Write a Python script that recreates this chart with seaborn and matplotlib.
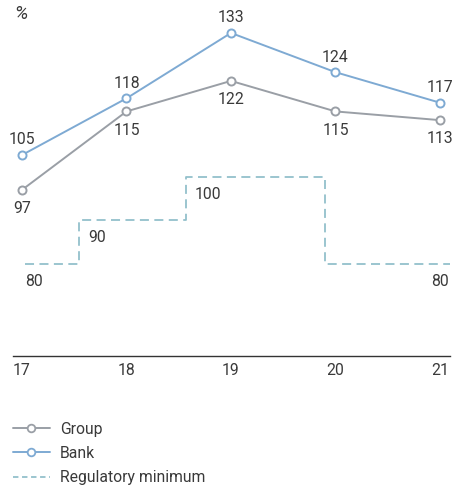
import matplotlib
matplotlib.use("Agg")
import matplotlib.pyplot as plt
from matplotlib.lines import Line2D
import seaborn as sns
import pandas as pd

# Data
years = [17, 18, 19, 20, 21]
year_labels = ["17", "18", "19", "20", "21"]
group = [97, 115, 122, 115, 113]
bank = [105, 118, 133, 124, 117]
reg_edges = [17.03, 17.55, 18.57, 19.9, 21.1]
reg_values = [80, 90, 100, 80]

GROUP_C = "#9a9fa6"
BANK_C = "#7eaad3"
REG_C = "#93c0cb"
TEXT_C = "#3a3a3a"

sns.set_theme(style="white")
plt.rcParams["font.family"] = ["Roboto", "DejaVu Sans"]
plt.rcParams["text.color"] = TEXT_C

W, H = 459, 491
fig = plt.figure(figsize=(W / 100, H / 100), dpi=100)
ax = fig.add_axes([13 / W, (H - 356) / H, (450 - 13) / W, (356 - 2) / H])

df = pd.DataFrame({"year": years, "Group": group, "Bank": bank})
reg_df = pd.DataFrame({"x": reg_edges, "y": reg_values + [reg_values[-1]]})

sns.lineplot(data=reg_df, x="x", y="y", ax=ax, color=REG_C, lw=1.3,
             drawstyle="steps-post", dashes=False, linestyle=(0, (5, 3)))
for col, c in (("Group", GROUP_C), ("Bank", BANK_C)):
    sns.lineplot(data=df, x="year", y=col, ax=ax, color=c, lw=1.4,
                 marker="o", markersize=5.8, markerfacecolor="white",
                 markeredgecolor=c, markeredgewidth=1.4)

fs = 11.3
for x, v in zip(years, bank):
    ax.annotate(str(v), (x, v), xytext=(0, 5.5), textcoords="offset points",
                ha="center", va="bottom", fontsize=fs, color=TEXT_C)
for x, v in zip(years, group):
    ax.annotate(str(v), (x, v), xytext=(0, -8), textcoords="offset points",
                ha="center", va="top", fontsize=fs, color=TEXT_C)

# Regulatory minimum labels
ax.annotate(str(reg_values[0]), (reg_edges[0], reg_values[0]), xytext=(0, -7),
            textcoords="offset points", ha="left", va="top", fontsize=fs, color=TEXT_C)
for i in (1, 2):
    ax.annotate(str(reg_values[i]), (reg_edges[i], reg_values[i]), xytext=(6.5, -7),
                textcoords="offset points", ha="left", va="top", fontsize=fs, color=TEXT_C)
ax.annotate(str(reg_values[-1]), (reg_edges[-1], reg_values[-1]), xytext=(-1, -7),
            textcoords="offset points", ha="right", va="top", fontsize=fs, color=TEXT_C)

ax.set_xlim(16.914, 21.096)
ax.set_ylim(58.9, 140.1)
ax.set_xticks(years)
ax.set_xticklabels(year_labels)
ax.set_yticks([])
ax.set_xlabel("")
ax.set_ylabel("")
for s in ("top", "left", "right"):
    ax.spines[s].set_visible(False)
ax.spines["bottom"].set_color("#333333")
ax.spines["bottom"].set_linewidth(1.0)
ax.tick_params(axis="x", length=0, pad=5, labelsize=fs, labelcolor=TEXT_C)
ax.patch.set_alpha(0)

fig.text(14 / W, 1 - 5 / H, "%", ha="left", va="top", fontsize=13.5,
         style="italic", color=TEXT_C)

handles = [
    Line2D([], [], color=GROUP_C, lw=1.4, marker="o", markersize=5.5,
           markerfacecolor="white", markeredgecolor=GROUP_C, markeredgewidth=1.3),
    Line2D([], [], color=BANK_C, lw=1.4, marker="o", markersize=5.5,
           markerfacecolor="white", markeredgecolor=BANK_C, markeredgewidth=1.3),
    Line2D([], [], color=REG_C, lw=1.3, linestyle=(0, (3, 2))),
]
fig.legend(handles, ["Group", "Bank", "Regulatory minimum"],
           loc="upper left", bbox_to_anchor=(0 / W, 1 - 409 / H),
           frameon=False, fontsize=fs, handlelength=2.4, handletextpad=0.6,
           labelspacing=0.6, borderpad=0.3, labelcolor=TEXT_C)

fig.savefig("out.png", dpi=100)
